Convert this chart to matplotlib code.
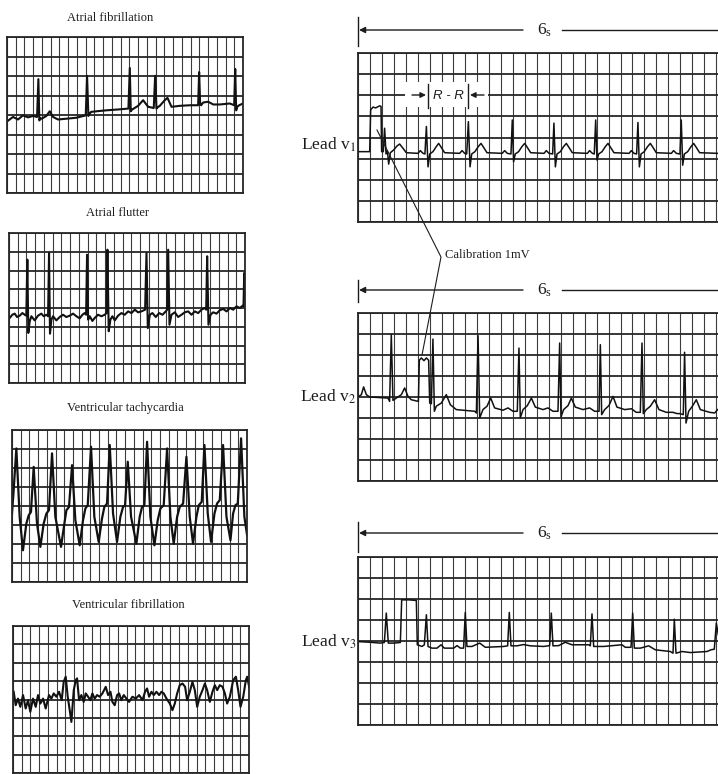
import matplotlib.pyplot as plt
import numpy as np
from matplotlib.patches import Rectangle

# traces, in grid units: (column, row counted from the bottom)
af_trace = [(0, 3.67), (0.69, 3.90), (1.26, 3.77), (1.83, 3.98), (2.40, 3.88), (2.98, 3.95),
            (3.44, 3.90), (3.59, 5.84), (3.70, 3.72), (3.82, 3.84), (3.97, 3.81), (4.50, 3.95),
            (4.89, 4.19), (5.27, 3.90), (5.84, 3.77), (6.79, 3.81), (7.94, 3.86), (9.01, 3.98),
            (9.16, 6.01), (9.31, 3.95), (9.47, 4.07), (9.62, 4.16), (10.23, 4.19), (11.37, 4.24),
            (12.90, 4.29), (13.89, 4.33), (14.05, 6.41), (14.16, 4.19), (14.31, 4.28), (14.50, 4.33),
            (15.0, 4.47), (15.57, 4.76), (16.15, 4.42), (16.79, 4.36), (16.95, 6.01), (17.10, 4.33),
            (17.25, 4.40), (17.48, 4.47), (18.05, 4.76), (18.36, 4.88), (18.82, 4.42), (19.77, 4.47),
            (20.92, 4.50), (21.87, 4.50), (21.98, 6.20), (22.10, 4.54), (22.21, 4.50), (22.44, 4.64),
            (23.02, 4.68), (23.59, 4.54), (24.35, 4.54), (25.50, 4.59), (25.99, 4.50), (26.11, 6.36),
            (26.22, 4.24), (26.34, 4.42), (26.56, 4.50), (27.0, 4.59)]

flutter_trace = [(0.08, 3.47), (0.38, 3.64), (0.65, 3.70), (0.92, 3.52), (1.22, 3.59), (1.53, 3.73),
                 (1.83, 3.63), (1.98, 3.59), (2.10, 6.58), (2.21, 2.67), (2.37, 3.29), (2.56, 3.56),
                 (2.94, 3.34), (3.32, 3.59), (3.70, 3.70), (3.97, 3.56), (4.27, 3.64), (4.47, 3.56),
                 (4.58, 6.93), (4.69, 2.63), (4.85, 3.38), (5.04, 3.56), (5.42, 3.34), (5.80, 3.52),
                 (6.18, 3.64), (6.56, 3.52), (6.95, 3.59), (7.33, 3.70), (7.71, 3.56), (8.09, 3.45),
                 (8.40, 3.64), (8.66, 3.73), (8.82, 3.64), (8.93, 6.84), (9.05, 3.38), (9.24, 3.56),
                 (9.54, 3.31), (9.81, 3.47), (10.19, 3.64), (10.57, 3.56), (10.95, 3.64), (11.15, 3.73),
                 (11.26, 7.11), (11.41, 2.76), (11.60, 3.38), (11.83, 3.56), (12.10, 3.34), (12.48, 3.59),
                 (12.86, 3.73), (13.24, 3.64), (13.63, 3.82), (14.01, 3.73), (14.39, 3.91), (14.77, 3.77),
                 (15.15, 3.82), (15.57, 3.91), (15.73, 6.93), (15.88, 2.93), (16.11, 3.64), (16.41, 3.73),
                 (16.79, 3.52), (17.18, 3.73), (17.56, 3.64), (17.94, 3.82), (18.09, 3.91), (18.21, 7.11),
                 (18.36, 3.11), (18.59, 3.64), (18.97, 3.77), (19.35, 3.52), (19.73, 3.64), (20.11, 3.77),
                 (20.50, 3.82), (20.88, 3.64), (21.26, 3.82), (21.64, 3.73), (22.02, 3.91), (22.40, 4.00),
                 (22.56, 3.91), (22.67, 6.76), (22.82, 3.11), (23.05, 3.64), (23.36, 3.77), (23.74, 3.70),
                 (24.12, 3.88), (24.50, 3.95), (24.89, 3.82), (25.27, 4.00), (25.65, 3.91), (26.03, 4.09),
                 (26.41, 4.00), (26.72, 4.12), (26.83, 4.09), (26.91, 5.87), (26.98, 4.44)]

vt_trace = [(0, 3.60), (0.19, 4.83), (0.50, 7.03), (0.88, 3.43), (1.26, 1.67), (1.65, 3.08), (1.92, 3.51), (2.18, 3.69), (2.49, 6.06),
            (2.87, 3.08), (3.26, 1.85), (3.64, 3.08), (3.95, 3.60), (4.25, 3.78), (4.60, 6.77),
            (4.98, 3.43), (5.63, 1.85), (6.02, 3.08), (6.25, 3.78), (6.55, 3.95), (6.90, 6.15),
            (7.28, 3.25), (7.78, 1.93), (8.16, 3.25), (8.43, 3.87), (8.70, 4.04), (9.08, 7.12),
            (9.46, 3.43), (9.96, 2.11), (10.34, 3.34), (10.61, 3.95), (10.92, 4.13), (11.23, 7.21),
            (11.61, 3.60), (12.07, 2.11), (12.45, 3.43), (12.76, 3.95), (12.99, 4.04), (13.30, 6.33),
            (13.68, 3.43), (14.29, 2.02), (14.67, 3.43), (14.94, 3.95), (15.21, 4.04), (15.52, 7.38),
            (15.90, 3.43), (16.36, 1.93), (16.74, 3.25), (17.05, 3.87), (17.43, 4.04), (17.82, 7.03),
            (18.20, 3.43), (18.58, 2.02), (18.97, 3.43), (19.27, 3.95), (19.66, 4.13), (20.04, 6.59),
            (20.42, 3.43), (20.80, 2.02), (21.19, 3.43), (21.46, 4.04), (21.80, 4.22), (22.11, 7.21),
            (22.49, 3.60), (22.87, 2.11), (23.26, 3.60), (23.56, 4.13), (23.87, 4.31), (24.25, 7.21),
            (24.64, 3.43), (25.10, 2.20), (25.40, 3.60), (25.67, 4.04), (25.94, 4.13), (26.32, 7.56),
            (26.70, 3.43), (27.01, 2.46)]

vf_trace = [(0.08, 4.42), (0.31, 3.69), (0.57, 4.05), (0.84, 3.60), (1.15, 4.24), (1.45, 3.51),
            (1.72, 3.96), (1.98, 3.33), (2.29, 4.05), (2.60, 3.60), (2.86, 4.24), (3.13, 3.78),
            (3.44, 4.05), (3.74, 3.51), (4.12, 4.24), (4.39, 4.05), (4.66, 4.33), (4.96, 4.15),
            (5.27, 4.42), (5.57, 3.96), (5.80, 4.96), (6.03, 5.24), (6.26, 4.15), (6.49, 3.42),
            (6.68, 2.78), (6.95, 4.51), (7.18, 5.05), (7.33, 5.15), (7.56, 3.96), (7.82, 4.24),
            (8.09, 3.87), (8.32, 4.33), (8.59, 4.15), (8.85, 3.96), (9.08, 4.33), (9.35, 4.05),
            (9.62, 4.24), (9.92, 4.15), (10.23, 4.33), (10.61, 4.69), (10.88, 4.24), (11.15, 4.42),
            (11.37, 3.87), (11.64, 3.69), (11.91, 4.24), (12.14, 4.33), (12.40, 3.96), (12.67, 4.24),
            (12.98, 4.05), (13.28, 3.87), (13.66, 4.15), (14.05, 4.05), (14.43, 4.24), (14.81, 3.96),
            (15.11, 4.42), (15.34, 4.60), (15.57, 4.15), (15.84, 4.42), (16.11, 4.24), (16.41, 4.42),
            (16.72, 4.24), (16.98, 4.42), (17.25, 4.33), (17.56, 4.05), (17.94, 3.78), (18.24, 3.42),
            (18.51, 3.78), (18.78, 4.33), (19.08, 4.78), (19.39, 4.87), (19.69, 4.69), (19.92, 3.96),
            (20.23, 4.42), (20.53, 4.96), (20.80, 4.51), (21.07, 3.60), (21.37, 4.15), (21.68, 4.51),
            (21.95, 4.87), (22.21, 4.51), (22.52, 3.87), (22.82, 4.42), (23.09, 4.78), (23.36, 4.51),
            (23.66, 4.78), (23.97, 4.69), (24.24, 4.33), (24.50, 3.78), (24.81, 4.15), (25.19, 5.05),
            (25.50, 5.24), (25.76, 4.51), (26.03, 3.60), (26.34, 4.15), (26.64, 5.05), (26.79, 5.24),
            (27.02, 4.69)]

v1_trace = [(0.06, 3.33), (0.98, 3.33), (1.06, 5.31), (1.26, 5.44), (1.48, 5.40), (1.82, 5.50), (1.93, 5.47),
            (1.98, 3.33), (2.12, 3.33), (2.23, 4.44), (2.35, 3.22), (2.46, 3.38), (2.57, 2.74), (2.71, 3.28),
            (2.99, 3.41), (3.27, 3.60), (3.49, 3.69), (3.77, 3.49), (4.05, 3.28), (5.03, 3.25),
            (5.22, 3.38), (5.45, 3.25), (5.61, 3.22), (5.73, 4.52), (5.87, 2.61), (6.01, 3.22), (6.28, 3.33),
            (6.56, 3.57), (6.76, 3.72), (6.98, 3.53), (7.26, 3.28), (8.52, 3.25),
            (8.72, 3.38), (8.94, 3.25), (9.11, 3.22), (9.25, 4.75), (9.39, 2.61), (9.53, 3.22), (9.80, 3.33),
            (10.08, 3.57), (10.31, 3.72), (10.53, 3.53), (10.81, 3.28), (12.09, 3.25),
            (12.29, 3.38), (12.51, 3.25), (12.82, 3.22), (12.93, 4.83), (13.04, 2.85), (13.18, 3.22), (13.46, 3.33),
            (13.74, 3.57), (13.97, 3.72), (14.19, 3.53), (14.47, 3.28), (15.59, 3.25),
            (15.78, 3.38), (16.01, 3.25), (16.31, 3.22), (16.42, 4.68), (16.54, 2.61), (16.68, 3.22), (16.96, 3.33),
            (17.23, 3.57), (17.46, 3.72), (17.68, 3.53), (17.96, 3.28), (19.22, 3.25),
            (19.41, 3.38), (19.64, 3.25), (19.80, 3.22), (19.92, 4.83), (20.03, 2.93), (20.17, 3.22), (20.45, 3.33),
            (20.73, 3.57), (20.95, 3.72), (21.17, 3.53), (21.45, 3.28), (22.71, 3.25),
            (22.91, 3.38), (23.13, 3.25), (23.35, 3.22), (23.46, 4.71), (23.58, 2.61), (23.72, 3.22), (23.99, 3.33),
            (24.27, 3.57), (24.50, 3.72), (24.72, 3.53), (25.0, 3.28), (26.26, 3.25),
            (26.45, 3.38), (26.68, 3.25), (26.98, 3.22), (27.09, 4.83), (27.21, 2.69), (27.35, 3.22), (27.63, 3.33),
            (27.91, 3.57), (28.13, 3.72), (28.35, 3.53), (28.63, 3.28), (30.14, 3.25)]

v2_trace = [(0.06, 4.03), (0.28, 4.11), (0.47, 4.48), (0.70, 4.11), (0.98, 4.00), (2.51, 3.95), (2.65, 3.79),
            (2.79, 6.97), (2.93, 3.84), (3.21, 3.95), (3.63, 4.11), (3.91, 4.43), (4.19, 4.03), (4.47, 3.87),
            (5.06, 3.79), (5.14, 5.75), (5.31, 5.86), (5.53, 5.73), (5.73, 5.86), (5.92, 5.75), (6.01, 3.71),
            (6.15, 3.68), (6.28, 6.76), (6.40, 3.32), (6.56, 3.56), (6.98, 3.71), (7.40, 4.11), (7.74, 3.63),
            (8.24, 3.40), (9.78, 3.32), (9.92, 3.24), (10.06, 6.92), (10.20, 3.00), (10.47, 3.40), (10.81, 3.56),
            (11.12, 3.95), (11.45, 3.48), (12.15, 3.37), (12.57, 3.48), (12.99, 3.32), (13.35, 3.32),
            (13.49, 6.33), (13.60, 3.00), (13.83, 3.40), (14.19, 3.59), (14.53, 3.95), (14.86, 3.52),
            (15.50, 3.40), (15.92, 3.48), (16.34, 3.32), (16.76, 3.32), (16.90, 6.57), (17.01, 3.05),
            (17.23, 3.40), (17.60, 3.59), (17.88, 3.95), (18.21, 3.52), (18.85, 3.40), (19.41, 3.48),
            (19.83, 3.32), (20.20, 3.32), (20.31, 6.49), (20.42, 3.16), (20.67, 3.40), (21.03, 3.59),
            (21.37, 4.03), (21.70, 3.52), (22.35, 3.40), (22.91, 3.44), (23.32, 3.27), (23.66, 3.27),
            (23.80, 6.57), (23.91, 3.21), (24.16, 3.40), (24.50, 3.56), (24.86, 3.87), (25.22, 3.40),
            (25.84, 3.27), (26.40, 3.27), (26.73, 3.21), (26.96, 3.21), (27.26, 3.16), (27.37, 6.13),
            (27.49, 2.76), (27.71, 3.32), (28.02, 3.56), (28.35, 3.87), (28.69, 3.40), (29.47, 3.27),
            (29.89, 3.24), (30.14, 3.40)]

v3_trace = [(0.06, 3.97), (1.03, 3.94), (1.87, 3.90), (2.21, 3.93), (2.37, 5.33), (2.54, 3.90), (2.99, 3.90),
            (3.55, 3.93), (3.66, 5.96), (4.25, 5.96), (4.89, 5.93), (4.97, 3.82), (5.36, 3.74), (5.56, 3.82),
            (5.73, 5.25), (5.87, 3.74), (6.20, 3.66), (6.62, 3.66), (6.96, 3.82), (7.23, 3.66), (8.02, 3.66),
            (8.30, 3.78), (8.58, 3.66), (8.85, 3.66), (8.99, 5.36), (9.13, 3.74), (9.55, 3.74), (10.20, 3.90),
            (10.67, 3.70), (12.21, 3.74), (12.54, 3.77), (12.68, 5.36), (12.82, 3.77), (13.32, 3.77),
            (13.88, 3.83), (14.44, 3.77), (15.56, 3.74), (16.06, 3.78), (16.20, 5.33), (16.34, 3.77),
            (16.82, 3.78), (17.37, 3.94), (17.93, 3.82), (19.33, 3.82), (19.47, 3.77), (19.61, 5.29),
            (19.75, 3.74), (20.59, 3.74), (22.12, 3.82), (22.40, 3.70), (22.88, 3.70), (23.02, 5.33),
            (23.16, 3.66), (23.66, 3.66), (24.36, 3.77), (24.92, 3.58), (26.17, 3.50), (26.40, 3.42),
            (26.51, 5.04), (26.65, 3.42), (27.15, 3.50), (27.85, 3.45), (29.25, 3.50), (29.58, 3.58),
            (29.86, 3.61), (30.03, 4.85), (30.20, 4.29)]

left_titles = ['Atrial fibrillation', 'Atrial flutter', 'Ventricular tachycardia', 'Ventricular fibrillation']
lead_names = ['Lead v$_1$', 'Lead v$_2$', 'Lead v$_3$']

W, H = 718, 774
plt.rcParams['mathtext.fontset'] = 'stix'
serif = 'Liberation Serif'
ink = '#1c1c1c'

fig = plt.figure(figsize=(W / 100, H / 100), dpi=100)


def strip(box, ncols, nrows, trace, lw_trace, lw_h, lw_v, width=None):
    x0, y0, x1, y1 = box
    ax = fig.add_axes([x0 / W, 1 - y1 / H, (x1 - x0) / W, (y1 - y0) / H])
    ax.set_xlim(0, width or ncols)
    ax.set_ylim(0, nrows)
    ax.set_xticks(np.arange(0, ncols + 1))
    ax.set_yticks(np.arange(0, nrows + 1))
    ax.grid(axis='x', color='#3c3c3c', lw=lw_v)
    ax.grid(axis='y', color='#262626', lw=lw_h)
    ax.tick_params(length=0, labelbottom=False, labelleft=False)
    for s in ax.spines.values():
        s.set_color('#262626')
        s.set_linewidth(lw_h)
    t, v = zip(*trace)
    ax.plot(t, v, color='#111111', lw=lw_trace, solid_joinstyle='round')
    return ax


# left column: rhythm strips
strip((7, 37, 243, 193), 27, 8, af_trace, 1.5, 1.3, 0.8)
strip((9, 233, 245, 383), 27, 8, flutter_trace, 1.5, 1.3, 0.8)
strip((12, 430, 247, 582), 27, 8, vt_trace, 1.6, 1.3, 0.8)
strip((13, 626, 249, 773), 27, 8, vf_trace, 1.5, 1.3, 0.8)

# right column: leads, cut at the right edge of the page
for box, tr in [((358, 53, 718, 222), v1_trace), ((358, 313, 718, 481), v2_trace),
                ((358, 557, 718, 725), v3_trace)]:
    a = strip(box, 30, 8, tr, 1.1, 1.3, 0.8, width=30.17)
    a.spines['right'].set_visible(False)

# overlay in page pixels for labels and annotations
ov = fig.add_axes([0, 0, 1, 1], zorder=10)
ov.set_xlim(0, W)
ov.set_ylim(H, 0)
ov.axis('off')
ov.patch.set_visible(False)

for (cx, cy), s in zip([(110, 18), (117, 213), (125, 408), (128, 605)], left_titles):
    ov.text(cx, cy, s, ha='center', va='center', family=serif, fontsize=9, color=ink)

for cy, s in zip([145, 397, 642], lead_names):
    ov.text(356, cy, s, ha='right', va='center', family=serif, fontsize=12.5, color=ink)

# 6 s bars above each lead
for y, (ya, yb) in [(30, (17, 46)), (290, (280, 302)), (533, (522, 552))]:
    ov.plot([358, 358], [ya, yb], color=ink, lw=1)
    ov.annotate('', xy=(359, y), xytext=(523, y),
                arrowprops=dict(arrowstyle='-|>', color=ink, lw=1, mutation_scale=9, shrinkA=0, shrinkB=0))
    ov.text(545, y, '6$_\\mathregular{s}$', ha='center', va='center', family=serif, fontsize=12.5, color=ink)
    ov.plot([562, 718], [y, y], color=ink, lw=1)

# R-R interval marker on lead v1
ov.add_patch(Rectangle((405, 82), 83, 25, fc='white', ec='none'))
ov.plot([428, 428], [84, 108], color=ink, lw=1)
ov.plot([468, 468], [84, 108], color=ink, lw=1)
ov.annotate('', xy=(426, 95), xytext=(412, 95),
            arrowprops=dict(arrowstyle='-|>', color=ink, lw=1, mutation_scale=8, shrinkA=0, shrinkB=0))
ov.annotate('', xy=(470, 95), xytext=(484, 95),
            arrowprops=dict(arrowstyle='-|>', color=ink, lw=1, mutation_scale=8, shrinkA=0, shrinkB=0))
ov.text(448, 96, 'R - R', ha='center', va='center', family='Liberation Sans', style='italic',
        fontsize=9.5, color=ink)

# calibration pointer
ov.plot([377, 441, 422], [130, 257, 355], color=ink, lw=0.8)
ov.text(445, 255, 'Calibration 1mV', ha='left', va='center', family=serif, fontsize=9, color=ink)

fig.savefig('out.png', dpi=100, facecolor='white')
